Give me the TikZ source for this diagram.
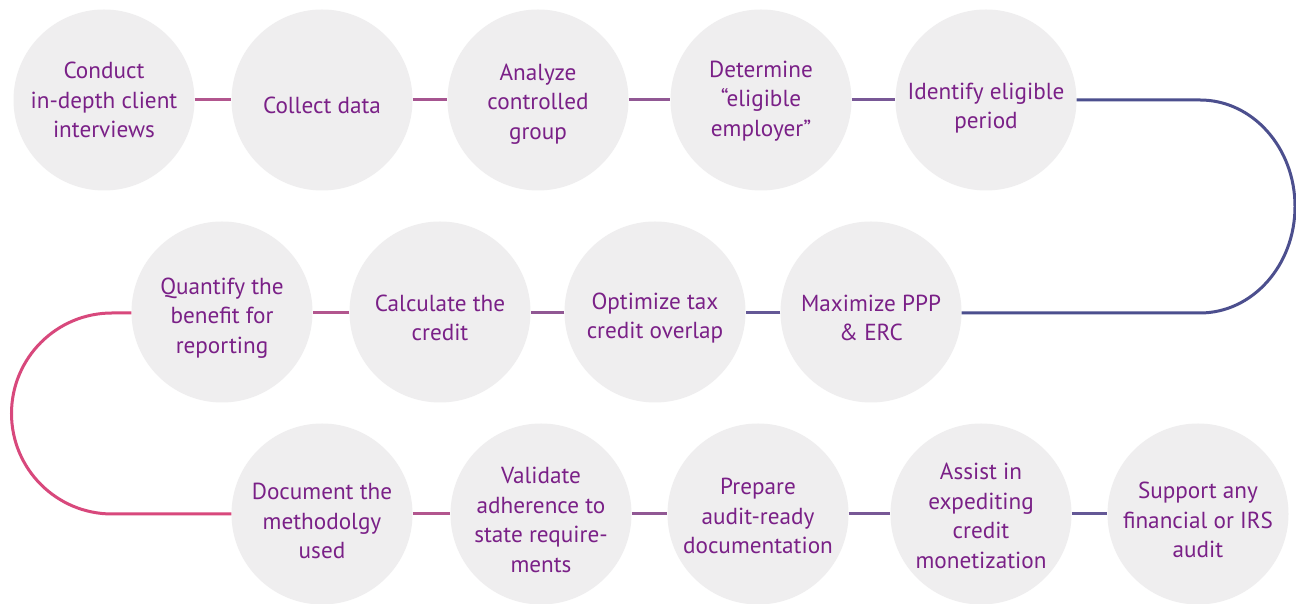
\documentclass[tikz,border=0pt]{standalone}
\usepackage{fontspec}
\setmainfont{PT Sans}
\begin{document}
\definecolor{stepfill}{RGB}{239,238,239}
\definecolor{steptext}{RGB}{122,32,135}
\definecolor{lnA}{RGB}{216,72,124}
\definecolor{lnC}{RGB}{178,86,142}
\definecolor{lnD}{RGB}{166,85,144}
\definecolor{lnE}{RGB}{145,88,148}
\definecolor{lnF}{RGB}{120,88,150}
\definecolor{lnG}{RGB}{100,88,150}
\definecolor{lnH}{RGB}{76,79,142}
\begin{tikzpicture}[x=1pt,y=1pt,
  stepnode/.style={circle, fill=stepfill, draw=none, minimum size=181pt, inner sep=0pt},
  steplabel/.style={text=steptext, align=center, inner sep=0pt,
    font=\fontsize{23.2}{29.5}\selectfont},
  link/.style={line width=3pt}]
\useasboundingbox (0,0) rectangle (1296,604);
\fill[white] (0,0) rectangle (1296,604);

% row 1
\node[stepnode, label={[steplabel]center:{Conduct\\in-depth client\\interviews}}] (s1) at (104,504) {};
\node[stepnode, label={[steplabel, yshift=-5pt]center:{Collect data}}] (s2) at (322,504) {};
\node[stepnode, label={[steplabel, yshift=-4pt]center:{Analyze\\controlled\\group}}] (s3) at (538,504) {};
\node[stepnode, label={[steplabel, yshift=-1pt]center:{Determine\\“eligible\\employer”}}] (s4) at (761,504) {};
\node[stepnode, label={[steplabel, yshift=-8pt]center:{Identify eligible\\period}}] (s5) at (986,504) {};
% row 2
\node[stepnode, label={[steplabel, yshift=-6pt]center:{Maximize PPP\\\& ERC}}] (s6) at (871,292) {};
\node[stepnode, label={[steplabel, yshift=-6pt]center:{Optimize tax\\credit overlap}}] (s7) at (655,292) {};
\node[stepnode, label={[steplabel, yshift=-6pt]center:{Calculate the\\credit}}] (s8) at (440,292) {};
\node[stepnode, label={[steplabel, yshift=-6pt]center:{Quantify the\\benefit for\\reporting}}] (s9) at (222,292) {};
% row 3
\node[stepnode, label={[steplabel, yshift=-7pt]center:{Document the\\methodolgy\\used}}] (s10) at (322,90) {};
\node[stepnode, label={[steplabel, yshift=-6pt]center:{Validate\\adherence to\\state require-\\ments}}] (s11) at (541,90) {};
\node[stepnode, label={[steplabel, yshift=-2pt]center:{Prepare\\audit-ready\\documentation}}] (s12) at (758,90) {};
\node[stepnode, label={[steplabel, yshift=-2pt]center:{Assist in\\expediting\\credit\\monetization}}] (s13) at (981,90) {};
\node[stepnode, label={[steplabel, yshift=-6pt]center:{Support any\\financial or IRS\\audit}}] (s14) at (1198,90) {};

% row 1 links
\draw[link, lnC] (s1.east) -- (s2.west);
\draw[link, lnD] (s2.east) -- (s3.west);
\draw[link, lnE] (s3.east) -- (s4.west);
\draw[link, lnF] (s4.east) -- (s5.west);
% right-hand turn
\draw[link, lnH] (s5.east) -- (1200,504)
  arc[start angle=90, end angle=-90, x radius=95, y radius=106.5] -- (s6.east |- 0,291);
% row 2 links
\draw[link, lnG] (s6.west |- 0,291) -- (s7.east |- 0,291);
\draw[link, lnE] (s7.west |- 0,291) -- (s8.east |- 0,291);
\draw[link, lnC] (s8.west |- 0,291) -- (s9.east |- 0,291);
% left-hand turn
\draw[link, lnA] (s9.west |- 0,291) -- (112,291)
  arc[start angle=90, end angle=270, radius=100.5] -- (s10.west);
% row 3 links
\draw[link, lnC] (s10.east) -- (s11.west);
\draw[link, lnE] (s11.east) -- (s12.west);
\draw[link, lnF] (s12.east) -- (s13.west);
\draw[link, lnG] (s13.east) -- (s14.west);
\end{tikzpicture}
\end{document}
